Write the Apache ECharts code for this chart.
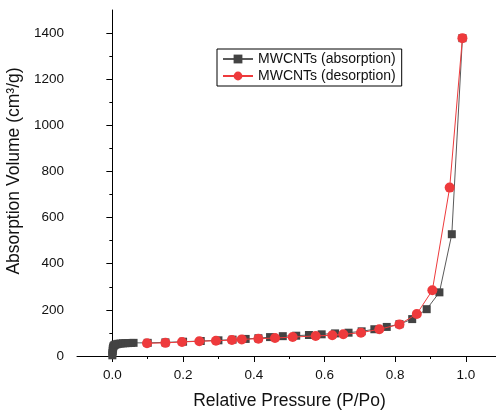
<!DOCTYPE html>
<html>
<head>
<meta charset="utf-8">
<script src="https://cdn.jsdelivr.net/npm/echarts@6/dist/echarts.min.js"></script>
<style>
html,body{margin:0;padding:0;background:#fff;}
#chart{width:496px;height:412px;}
</style>
</head>
<body>
<div id="chart"></div>
<script>
// Absorption (adsorption) branch
const absP = [0.000,0.000,0.001,0.001,0.002,0.003,0.005,0.008,0.012,0.017,0.023,0.030,0.037,0.045,0.053,0.060,
  0.10,0.15,0.20,0.25,0.30,0.34,0.377,0.413,0.446,0.482,0.52,0.556,0.592,0.63,0.668,0.705,0.741,0.776,0.812,0.848,0.889,0.925,0.96,0.99];
const absV = [3,12,21,29,36,42,46,49,51,53,54,55,55.5,56,56.5,57,
  57,59,62,65,68,71,74,77,82,86,88,91,94,98,101,107,116,126,138,160,203,276,528,1378];
// Desorption branch
const desP = [0.99,0.954,0.905,0.861,0.812,0.755,0.703,0.653,0.622,0.575,0.51,0.46,0.413,0.366,0.338,0.293,0.246,0.197,0.15,0.098];
const desV = [1378,730,285,182,137,116,101,94,90,87,82,78,75,72,69,66,64,61,57,55];

const xMajor = [0,0.2,0.4,0.6,0.8,1.0];
const xMinor = [0.1,0.3,0.5,0.7,0.9];
const yMajor = [0,200,400,600,800,1000,1200,1400];
const yMinor = [100,300,500,700,900,1100,1300];

const FONT = 'Liberation Sans, Arial, sans-serif';
const absData = absP.map((p,i)=>[p,absV[i]]);
const desData = desP.map((p,i)=>[p,desV[i]]);

const chart = echarts.init(document.getElementById('chart'), null, {renderer:'canvas'});
const axisLineStyle = {show:true, lineStyle:{color:'#000', width:1}};
chart.setOption({
  animation:false,
  backgroundColor:'#fff',
  textStyle:{fontFamily:FONT},
  grid:{left:77, top:10, right:0, bottom:56, containLabel:false, outerBoundsMode:'none'},
  legend:{
    orient:'vertical', left:217, top:49,
    borderColor:'#000', borderWidth:1, padding:[3,6,3,5],
    itemGap:3, itemWidth:30, itemHeight:11,
    textStyle:{fontSize:14, color:'#111', fontFamily:FONT},
    data:['MWCNTs (absorption)','MWCNTs (desorption)']
  },
  xAxis:[{
    type:'value', min:-0.1, max:1.085,
    name:'Relative Pressure (P/Po)', nameLocation:'middle', nameGap:36,
    nameTextStyle:{fontSize:17.5, color:'#111', fontFamily:FONT, padding:[0,0,0,6]},
    axisLine:axisLineStyle,
    axisTick:{show:true, length:6, customValues:xMajor, lineStyle:{color:'#000'}},
    axisLabel:{show:true, customValues:xMajor, margin:12, fontSize:13.5, color:'#111', fontFamily:FONT,
      formatter:v=>Number(v).toFixed(1)},
    splitLine:{show:false}
  },{
    type:'value', min:-0.1, max:1.085, position:'bottom',
    axisLine:{show:false},
    axisTick:{show:true, length:3, customValues:xMinor, lineStyle:{color:'#000'}},
    axisLabel:{show:false}, splitLine:{show:false}
  }],
  yAxis:[{
    type:'value', min:0, max:1500,
    name:'Absorption Volume (cm³/g)', nameLocation:'middle', nameGap:43,
    nameTextStyle:{fontSize:17.5, color:'#111', fontFamily:FONT, padding:[0,0,0,24]},
    axisLine:axisLineStyle,
    axisTick:{show:true, length:6, customValues:yMajor, lineStyle:{color:'#000'}},
    axisLabel:{show:true, customValues:yMajor, margin:13, fontSize:13.5, color:'#111', fontFamily:FONT,
      formatter:v=>String(Math.round(v))},
    splitLine:{show:false}
  },{
    type:'value', min:0, max:1500, position:'left',
    axisLine:{show:false},
    axisTick:{show:true, length:3, customValues:yMinor, lineStyle:{color:'#000'}},
    axisLabel:{show:false}, splitLine:{show:false}
  }],
  series:[{
    name:'MWCNTs (absorption)', type:'line', data:absData,
    xAxisIndex:0, yAxisIndex:0,
    symbol:'rect', symbolSize:8,
    itemStyle:{color:'#434343'},
    lineStyle:{color:'#5a5a5a', width:1},
    z:2
  },{
    name:'MWCNTs (desorption)', type:'line', data:desData,
    xAxisIndex:0, yAxisIndex:0,
    symbol:'circle', symbolSize:10,
    itemStyle:{color:'#ee3a3c'},
    lineStyle:{color:'#ee3a3c', width:1},
    z:3
  }]
});
</script>
</body>
</html>
